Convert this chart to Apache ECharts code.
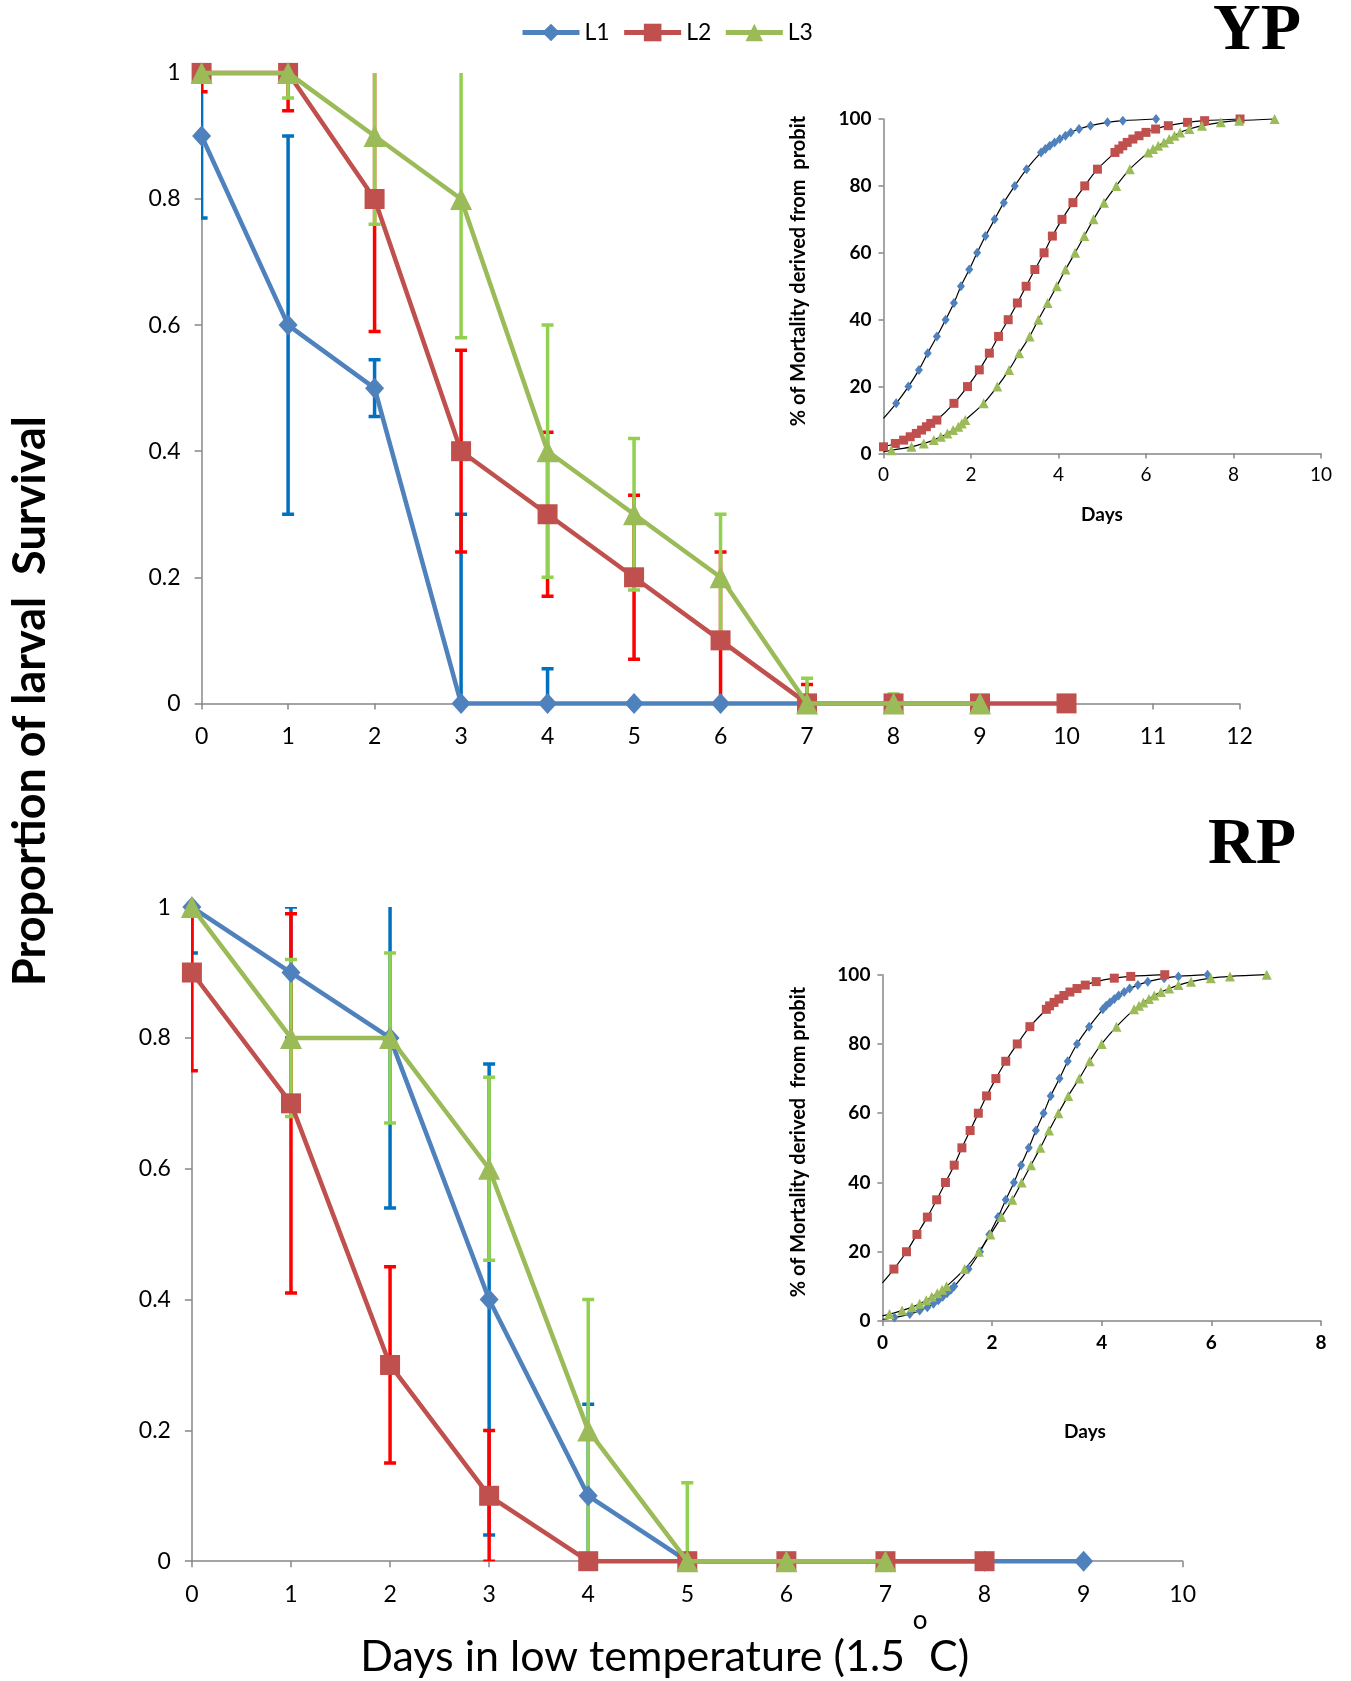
<!DOCTYPE html>
<html><head><meta charset="utf-8">
<script src="https://cdn.jsdelivr.net/npm/echarts@6/dist/echarts.min.js"></script>
<style>html,body{margin:0;padding:0;background:#fff}#c{width:1351px;height:1681px}</style>
</head><body><div id="c"></div>
<script>
// ---------- YP main panel ----------
const ypDaysL1 = [0,1,2,3,4,5,6,7];
const ypL1 = [0.9,0.6,0.5,0,0,0,0,0];
const ypL1Err = [0.13,0.3,0.045,0.3,0.055,0,0,0];
const ypDaysL2 = [0,1,2,3,4,5,6,7,8,9,10];
const ypL2 = [1,1,0.8,0.4,0.3,0.2,0.1,0,0,0,0];
const ypL2Err = [0.03,0.06,0.21,0.16,0.13,0.13,0.14,0.03,0,0,0];
const ypDaysL3 = [0,1,2,3,4,5,6,7,8,9];
const ypL3 = [1,1,0.9,0.8,0.4,0.3,0.2,0,0,0];
const ypL3Err = [0,0.04,0.14,0.22,0.2,0.12,0.1,0.04,0.015,0];
// ---------- RP main panel ----------
const rpDaysL1 = [0,1,2,3,4,5,6,7,8,9];
const rpL1 = [1,0.9,0.8,0.4,0.1,0,0,0,0,0];
const rpL1Err = [0.07,0.1,0.26,0.36,0.14,0,0,0,0,0];
const rpDaysL2 = [0,1,2,3,4,5,6,7,8];
const rpL2 = [0.9,0.7,0.3,0.1,0,0,0,0,0];
const rpL2Err = [0.15,0.29,0.15,0.1,0,0,0,0,0];
const rpDaysL3 = [0,1,2,3,4,5,6,7];
const rpL3 = [1,0.8,0.8,0.6,0.2,0,0,0];
const rpL3Err = [0,0.12,0.13,0.14,0.2,0.12,0,0];
// ---------- YP inset (probit) ----------
const ypPL1Days = [0.29,0.57,0.81,1.01,1.22,1.42,1.61,1.77,1.96,2.14,2.33,2.54,2.75,3.0,3.27,3.60,3.70,3.80,3.91,4.03,4.16,4.28,4.47,4.73,5.12,5.47,6.23];
const ypPL1Pct  = [15,20,25,30,35,40,45,50,55,60,65,70,75,80,85,90,91,92,93,94,95,96,97,98,99,99.5,100];
const ypPL1Start = 10.5;
const ypPL2Days = [0,0.27,0.46,0.61,0.75,0.87,0.98,1.08,1.22,1.61,1.92,2.19,2.42,2.63,2.85,3.06,3.26,3.46,3.67,3.86,4.08,4.33,4.60,4.89,5.29,5.38,5.47,5.57,5.70,5.84,6.0,6.22,6.51,6.95,7.34,8.15];
const ypPL2Pct  = [2,3,4,5,6,7,8,9,10,15,20,25,30,35,40,45,50,55,60,65,70,75,80,85,90,91,92,93,94,95,96,97,98,99,99.5,100];
const ypPL3Days = [0.18,0.64,0.92,1.15,1.31,1.46,1.59,1.71,1.79,1.87,2.29,2.60,2.87,3.10,3.34,3.54,3.75,3.96,4.16,4.38,4.59,4.80,5.04,5.32,5.63,6.05,6.16,6.28,6.41,6.53,6.65,6.78,6.99,7.28,7.71,8.13,8.94];
const ypPL3Pct  = [1,2,3,4,5,6,7,8,9,10,15,20,25,30,35,40,45,50,55,60,65,70,75,80,85,90,91,92,93,94,95,96,97,98,99,99.5,100];
const ypPL3Start = 0.5;
// ---------- RP inset (probit) ----------
const rpPL1Days = [0.22,0.50,0.68,0.82,0.93,1.02,1.10,1.18,1.25,1.31,1.57,1.78,1.95,2.11,2.25,2.40,2.53,2.67,2.80,2.94,3.07,3.23,3.38,3.55,3.77,4.02,4.08,4.15,4.23,4.31,4.41,4.51,4.66,4.84,5.14,5.40,5.93];
const rpPL1Pct  = [1,2,3,4,5,6,7,8,9,10,15,20,25,30,35,40,45,50,55,60,65,70,75,80,85,90,91,92,93,94,95,96,97,98,99,99.5,100];
const rpPL1Start = 0.5;
const rpPL2Days = [0.21,0.44,0.63,0.82,0.99,1.15,1.31,1.45,1.60,1.75,1.90,2.07,2.25,2.46,2.69,2.99,3.05,3.13,3.22,3.31,3.42,3.55,3.70,3.90,4.23,4.53,5.15];
const rpPL2Pct  = [15,20,25,30,35,40,45,50,55,60,65,70,75,80,85,90,91,92,93,94,95,96,97,98,99,99.5,100];
const rpPL2Start = 11;
const rpPL3Days = [0.13,0.36,0.54,0.68,0.80,0.90,1.0,1.09,1.17,1.50,1.76,1.97,2.17,2.37,2.54,2.71,2.88,3.04,3.21,3.39,3.59,3.78,4.0,4.27,4.59,4.68,4.76,4.86,4.96,5.08,5.23,5.40,5.63,5.99,6.34,7.01];
const rpPL3Pct  = [2,3,4,5,6,7,8,9,10,15,20,25,30,35,40,45,50,55,60,65,70,75,80,85,90,91,92,93,94,95,96,97,98,99,99.5,100];
const rpPL3Start = 1.5;
const mainYTicks = {min:0,max:1,interval:0.2};

// ---------- styles ----------
const AX = '#878787';
const C1 = '#4F81BD', C2 = '#C0504D', C3 = '#9BBB59';
const E1 = '#0070C0', E2 = '#FF0000', E3 = '#92D050';
const zip = (xs, ys) => xs.map((x,i)=>[x, ys[i]]);

function mainXAxis(gi, max){
  return {gridIndex:gi, type:'value', min:0, max:max, interval:1,
    axisLine:{onZero:false, lineStyle:{color:AX,width:1.5}},
    axisTick:{length:6, lineStyle:{color:AX,width:1.5}},
    axisLabel:{margin:22, color:'#000', fontFamily:'Lato', fontSize:23},
    splitLine:{show:false}};
}
function mainYAxis(gi){
  return {gridIndex:gi, type:'value', min:mainYTicks.min, max:mainYTicks.max, interval:mainYTicks.interval,
    axisLine:{show:true, onZero:false, lineStyle:{color:AX,width:1.5}},
    axisTick:{show:true, length:7, lineStyle:{color:AX,width:1.5}},
    axisLabel:{margin:21, color:'#000', fontFamily:'Lato', fontSize:23},
    splitLine:{show:false}};
}
function insetXAxis(gi, max, bold){
  return {gridIndex:gi, type:'value', min:0, max:max, interval:2,
    axisLine:{onZero:false, lineStyle:{color:AX,width:1.5}},
    axisTick:{length:5, lineStyle:{color:AX,width:1.5}},
    axisLabel:{margin:12, color:'#000', fontFamily:'Lato', fontWeight:bold?'bold':'normal', fontSize:19},
    splitLine:{show:false}};
}
function insetYAxis(gi){
  return {gridIndex:gi, type:'value', min:0, max:100, interval:20,
    axisLine:{show:true, onZero:false, lineStyle:{color:AX,width:1.5}},
    axisTick:{show:true, length:5, lineStyle:{color:AX,width:1.5}},
    axisLabel:{margin:12, color:'#000', fontFamily:'Lato', fontWeight:'bold', fontSize:19},
    splitLine:{show:false}};
}
function lineSeries(name, ai, xs, ys, color, symbol, size, z){
  return {type:'line', name:name, xAxisIndex:ai, yAxisIndex:ai, data:zip(xs,ys),
    color:color, lineStyle:{color:color,width:4.5}, itemStyle:{color:color},
    symbol:symbol, symbolSize:size, showSymbol:true, clip:false, z:z, animation:false};
}
function errSeries(name, ai, xs, ys, errs, color, z){
  const data = xs.map((x,i)=>[x, ys[i], errs[i]]).filter(d=>d[2]>0);
  return {type:'custom', name:name, xAxisIndex:ai, yAxisIndex:ai, clip:true, silent:true, z:z,
    encode:{x:0,y:1}, data:data, animation:false,
    renderItem:function(params, api){
      const x=api.value(0), y=api.value(1), e=api.value(2);
      const hi=api.coord([x,y+e]), lo=api.coord([x,y-e]);
      const hw=6, st={stroke:color, lineWidth:3.5};
      return {type:'group', children:[
        {type:'line', shape:{x1:hi[0],y1:hi[1],x2:lo[0],y2:lo[1]}, style:st},
        {type:'line', shape:{x1:hi[0]-hw,y1:hi[1],x2:hi[0]+hw,y2:hi[1]}, style:st},
        {type:'line', shape:{x1:lo[0]-hw,y1:lo[1],x2:lo[0]+hw,y2:lo[1]}, style:st}
      ]};
    }};
}
function fitSeries(name, ai, xs, ys, start){
  let d = zip(xs, ys);
  if (start !== null) d = [[0,start]].concat(d);
  return {type:'line', name:name, xAxisIndex:ai, yAxisIndex:ai, data:d, smooth:0.3,
    showSymbol:false, symbol:'none', lineStyle:{color:'#000',width:1.2}, z:3, animation:false, clip:false};
}
function ptSeries(name, ai, xs, ys, color, symbol, size){
  return {type:'scatter', name:name, xAxisIndex:ai, yAxisIndex:ai, data:zip(xs,ys),
    symbol:symbol, symbolSize:size, itemStyle:{color:color, opacity:1}, z:4, animation:false, clip:false};
}

const option = {
  animation:false,
  backgroundColor:'#fff',
  legend:{data:['L1','L2','L3'], left:515, top:16, itemWidth:57, itemHeight:22, itemGap:12,
    lineStyle:{width:5},
    textStyle:{fontFamily:'Lato', fontSize:23, color:'#000'}},
  grid:[
    {left:201.6, top:72.9, width:1037.9, height:630.5},
    {left:191.9, top:907.1, width:990.8, height:654.1},
    {left:883.5, top:119, width:437.5, height:334.5},
    {left:882.4, top:974.7, width:438.6, height:346.3}
  ],
  xAxis:[mainXAxis(0,12), mainXAxis(1,10), insetXAxis(2,10,false), insetXAxis(3,8,true)],
  yAxis:[mainYAxis(0), mainYAxis(1), insetYAxis(2), insetYAxis(3)],
  series:[
    errSeries('e1',0,ypDaysL1,ypL1,ypL1Err,E1,2),
    errSeries('e2',0,ypDaysL2,ypL2,ypL2Err,E2,2),
    errSeries('e3',0,ypDaysL3,ypL3,ypL3Err,E3,2),
    lineSeries('L1',0,ypDaysL1,ypL1,C1,'diamond',[19,21],5),
    lineSeries('L2',0,ypDaysL2,ypL2,C2,'rect',20,6),
    lineSeries('L3',0,ypDaysL3,ypL3,C3,'triangle',22,7),

    errSeries('e1b',1,rpDaysL1,rpL1,rpL1Err,E1,2),
    errSeries('e2b',1,rpDaysL2,rpL2,rpL2Err,E2,2),
    errSeries('e3b',1,rpDaysL3,rpL3,rpL3Err,E3,2),
    lineSeries('L1',1,rpDaysL1,rpL1,C1,'diamond',[19,21],5),
    lineSeries('L2',1,rpDaysL2,rpL2,C2,'rect',20,6),
    lineSeries('L3',1,rpDaysL3,rpL3,C3,'triangle',22,7),

    fitSeries('f1',2,ypPL1Days,ypPL1Pct,ypPL1Start),
    fitSeries('f2',2,ypPL2Days,ypPL2Pct,null),
    fitSeries('f3',2,ypPL3Days,ypPL3Pct,ypPL3Start),
    ptSeries('p1',2,ypPL1Days,ypPL1Pct,C1,'diamond',[8,10]),
    ptSeries('p2',2,ypPL2Days,ypPL2Pct,C2,'rect',9),
    ptSeries('p3',2,ypPL3Days,ypPL3Pct,C3,'triangle',10),

    fitSeries('g1',3,rpPL1Days,rpPL1Pct,rpPL1Start),
    fitSeries('g2',3,rpPL2Days,rpPL2Pct,rpPL2Start),
    fitSeries('g3',3,rpPL3Days,rpPL3Pct,rpPL3Start),
    ptSeries('q1',3,rpPL1Days,rpPL1Pct,C1,'diamond',[8,10]),
    ptSeries('q2',3,rpPL2Days,rpPL2Pct,C2,'rect',9),
    ptSeries('q3',3,rpPL3Days,rpPL3Pct,C3,'triangle',10)
  ],
  graphic:[
    {type:'text', x:30, y:701, rotation:Math.PI/2, style:{text:'Proportion of larval  Survival',
      fontFamily:'Lato', fontWeight:'bold', fontSize:45, fill:'#000', align:'center', verticalAlign:'middle'}},
    {type:'text', x:905, y:1657, style:{text:'Days in low temperature (1.5',
      fontFamily:'Lato', fontSize:43, fill:'#000', align:'right', verticalAlign:'middle'}},
    {type:'text', x:920, y:1621, style:{text:'o',
      fontFamily:'Lato', fontSize:26, fill:'#000', align:'center', verticalAlign:'middle'}},
    {type:'text', x:929, y:1657, style:{text:'C)',
      fontFamily:'Lato', fontSize:43, fill:'#000', align:'left', verticalAlign:'middle'}},
    {type:'text', x:1257, y:32, style:{text:'YP', fontFamily:'Liberation Serif', fontWeight:'bold', fontSize:66,
      fill:'#000', align:'center', verticalAlign:'middle'}},
    {type:'text', x:1252, y:846, style:{text:'RP', fontFamily:'Liberation Serif', fontWeight:'bold', fontSize:66,
      fill:'#000', align:'center', verticalAlign:'middle'}},
    {type:'text', x:799, y:271, rotation:Math.PI/2, style:{text:'% of Mortality derived from  probit',
      fontFamily:'Lato', fontWeight:'bold', fontSize:20, fill:'#000', align:'center', verticalAlign:'middle'}},
    {type:'text', x:799, y:1142, rotation:Math.PI/2, style:{text:'% of Mortality derived  from probit',
      fontFamily:'Lato', fontWeight:'bold', fontSize:20, fill:'#000', align:'center', verticalAlign:'middle'}},
    {type:'text', x:1102, y:515, style:{text:'Days', fontFamily:'Lato', fontWeight:'bold', fontSize:19,
      fill:'#000', align:'center', verticalAlign:'middle'}},
    {type:'text', x:1085, y:1432, style:{text:'Days', fontFamily:'Lato', fontWeight:'bold', fontSize:19,
      fill:'#000', align:'center', verticalAlign:'middle'}}
  ]
};
const chart = echarts.init(document.getElementById('c'), null, {renderer:'canvas'});
chart.setOption(option);
</script></body></html>
